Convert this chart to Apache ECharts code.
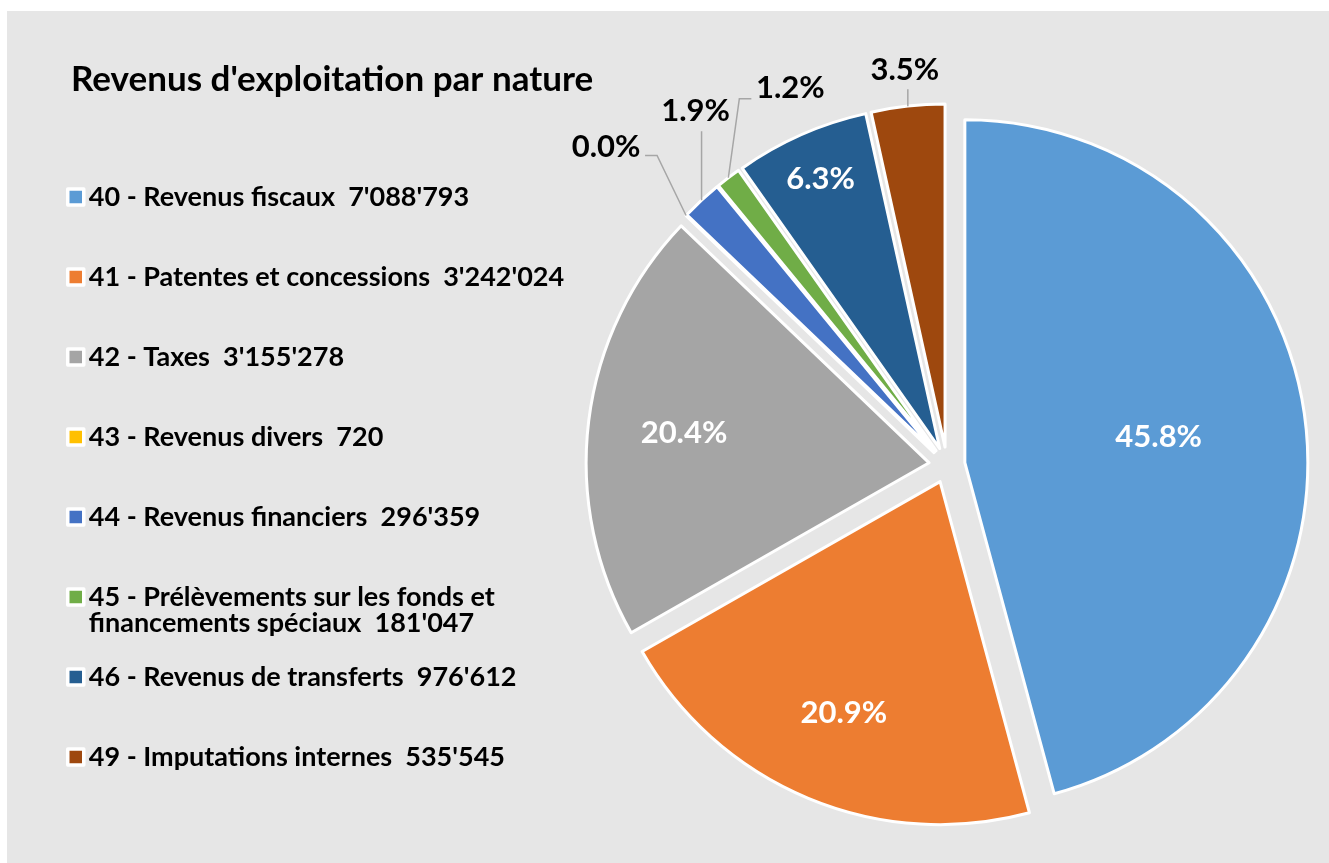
<!DOCTYPE html>
<html>
<head>
<meta charset="utf-8">
<script src="https://cdn.jsdelivr.net/npm/echarts@6/dist/echarts.min.js"></script>
<style>
  html, body { margin: 0; padding: 0; background: #fff; }
  #frame { position: absolute; left: 7px; top: 11px; right: 0; bottom: 0; background: #e6e6e6; }
  #chart { position: absolute; left: 0; top: 0; width: 1329px; height: 863px; }
</style>
</head>
<body>
<div id="frame"></div>
<div id="chart"></div>
<script>
  // revenus par nature
  const categories = [
    '40 - Revenus fiscaux',
    '41 - Patentes et concessions',
    '42 - Taxes',
    '43 - Revenus divers',
    '44 - Revenus financiers',
    '45 - Prélèvements sur les fonds et\nfinancements spéciaux',
    '46 - Revenus de transferts',
    '49 - Imputations internes'
  ]
  const amounts = [7088793, 3242024, 3155278, 720, 296359, 181047, 976612, 535545]
  const colors = ['#5b9bd5', '#ed7d31', '#a5a5a5', '#ffc000', '#4472c4', '#70ad47', '#255e91', '#9e480e']

  const FONT = 'Lato'
  const CX = 947, CY = 465, R = 343, OFF = 18

  // where the labels sit (fraction of radius inside, or callout offsets from the rim)
  const insideAt = {0: 0.57, 1: 0.73, 2: 0.72, 6: 0.86}
  const callouts = {
    3: {label: [-80, -69], bend: [-29, -60], end: [-41, -60]},
    4: {label: [-6, -89], bend: [0, -69], end: [0, -69]},
    5: {label: [62, -90], bend: [11, -79], end: [23, -79]},
    7: {label: [-3, -36], bend: [0, -17], end: [0, -17]}
  }

  const total = amounts.reduce((a, b) => a + b, 0)
  const mids = []
  let acc = 0
  amounts.forEach(v => {
    mids.push((acc + v / 2) / total * 2 * Math.PI)
    acc += v
  })
  function along(i, r) {
    const a = mids[i]
    return [CX + (OFF + r) * Math.sin(a), CY - (OFF + r) * Math.cos(a)]
  }
  function fmt(v) {
    return String(v).replace(/\B(?=(\d{3})+(?!\d))/g, "'")
  }

  // exploded slices
  const sliceData = categories.map((name, i) => ({
    name: name,
    value: amounts[i],
    selected: true,
    itemStyle: {color: colors[i]}
  }))

  // same values again, only to carry the percentage labels
  const labelData = categories.map((name, i) => {
    const outside = callouts[i] !== undefined
    return {
      name: name,
      value: amounts[i],
      label: {position: outside ? 'outside' : 'inside', color: outside ? '#000' : '#fff'},
      labelLine: {show: outside}
    }
  })

  const E = echarts.init(document.getElementById('chart'))
  E.setOption({
    animation: false,
    title: {
      text: "Revenus d'exploitation par nature",
      left: 71,
      top: 62,
      padding: 0,
      textStyle: {fontFamily: FONT, fontSize: 35, fontWeight: 'bold', color: '#000'}
    },
    legend: {
      orient: 'vertical',
      left: 66,
      top: 157,
      padding: 0,
      itemGap: 0,
      itemWidth: 16,
      itemHeight: 16,
      icon: 'rect',
      selectedMode: false,
      data: categories,
      itemStyle: {borderColor: '#fff', borderWidth: 3.5},
      textStyle: {fontFamily: FONT, fontSize: 27, fontWeight: 'bold', color: '#000', lineHeight: 26.5},
      formatter: name => {
        const txt = name + '  ' + fmt(amounts[categories.indexOf(name)])
        return txt.indexOf('\n') >= 0 ? '\n' + txt : '\n' + txt + '\n'
      }
    },
    series: [
      {
        type: 'pie',
        center: [CX, CY],
        radius: R,
        startAngle: 90,
        clockwise: true,
        selectedMode: 'multiple',
        selectedOffset: OFF,
        itemStyle: {borderColor: '#fff', borderWidth: 3},
        emphasis: {disabled: true},
        label: {show: false},
        labelLine: {show: false},
        data: sliceData
      },
      {
        type: 'pie',
        center: [CX, CY],
        radius: R,
        startAngle: 90,
        clockwise: true,
        silent: true,
        selectedMode: false,
        avoidLabelOverlap: false,
        percentPrecision: 1,
        z: 3,
        itemStyle: {color: 'rgba(0,0,0,0)', borderWidth: 0},
        emphasis: {disabled: true},
        label: {
          formatter: p => p.percent.toFixed(1) + '%',
          fontFamily: FONT,
          fontSize: 31,
          fontWeight: 'bold'
        },
        labelLine: {lineStyle: {color: '#a6a6a6', width: 1.5}},
        labelLayout: params => {
          const i = params.dataIndex
          if (callouts[i]) {
            const c = callouts[i]
            const rim = along(i, R)
            return {
              x: rim[0] + c.label[0],
              y: rim[1] + c.label[1],
              align: 'center',
              verticalAlign: 'middle',
              labelLinePoints: [
                rim,
                [rim[0] + c.bend[0], rim[1] + c.bend[1]],
                [rim[0] + c.end[0], rim[1] + c.end[1]]
              ]
            }
          }
          const p = along(i, R * insideAt[i])
          return {x: p[0], y: p[1], align: 'center', verticalAlign: 'middle'}
        },
        data: labelData
      }
    ]
  })
</script>
</body>
</html>
